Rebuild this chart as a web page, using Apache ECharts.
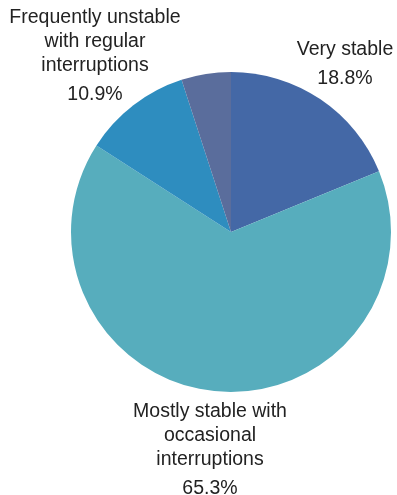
<!DOCTYPE html>
<html>
<head>
<meta charset="utf-8">
<script src="https://cdn.jsdelivr.net/npm/echarts@6/dist/echarts.min.js"></script>
<style>html,body{margin:0;padding:0;background:#fff}#c{width:397px;height:495px}</style>
</head>
<body>
<div id="c"></div>
<script>
const categories = ['Very stable', 'Mostly stable with\noccasional\ninterruptions', 'Frequently unstable\nwith regular\ninterruptions', 'Other'];
const values = [18.8, 65.3, 10.9, 5.0];
const showLabel = [true, true, true, false];
const colors = ['#4468a6', '#57adbd', '#2e8dbf', '#5a6d9c'];
const labelPos = [[345, 38], [210, 400], [95, 6]];

const chart = echarts.init(document.getElementById('c'), null, {renderer: 'canvas'});
chart.setOption({
  animation: false,
  series: [{
    type: 'pie',
    center: [231, 232],
    radius: 160,
    startAngle: 90,
    clockwise: true,
    silent: true,
    labelLine: {show: false},
    itemStyle: {borderWidth: 0},
    label: {
      position: 'outside',
      alignTo: 'none',
      overflow: 'none',
      fontFamily: 'Liberation Sans',
      fontSize: 19.5,
      color: '#222',
      lineHeight: 24,
      align: 'center',
      formatter: p => p.name + '\n{p|' + p.value.toFixed(1) + '%}',
      rich: {p: {fontFamily: 'Liberation Sans', fontSize: 19.5, color: '#222', lineHeight: 33, align: 'center'}}
    },
    labelLayout: function (params) {
      const pos = labelPos[params.dataIndex];
      if (!pos) return {};
      return {x: pos[0], y: pos[1], align: 'center', verticalAlign: 'top', hideOverlap: false, width: 300};
    },
    data: categories.map((c, i) => ({
      name: c, value: values[i],
      itemStyle: {color: colors[i]},
      label: {show: showLabel[i]}
    }))
  }]
});
</script>
</body>
</html>
